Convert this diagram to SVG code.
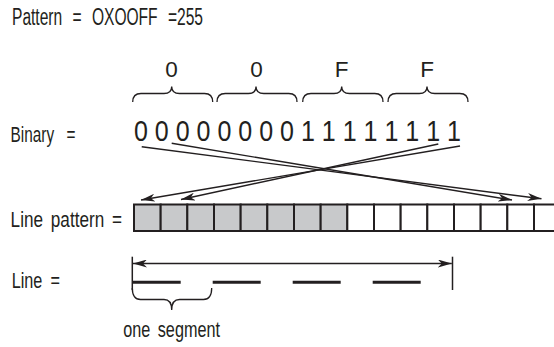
<svg xmlns="http://www.w3.org/2000/svg" width="554" height="347" viewBox="0 0 554 347">
<style>
  text { font-family: "Liberation Sans Narrow", "Liberation Sans", Arial, sans-serif; fill: #231f20; }
  .lbl { font-size: 22.5px; }
  .ttl { font-size: 23.5px; }
  .hex { font-size: 22.5px; text-anchor: middle; }
  .bits { font-size: 30px; }
  .brace { fill: none; stroke: #231f20; stroke-width: 1.3; }
  .cell { stroke: #231f20; stroke-width: 2; }
  .on { fill: #c8c9cb; }
  .off { fill: #ffffff; }
  .arrow { fill: none; stroke: #231f20; stroke-width: 1.4; marker-end: url(#ah); }
  .rule { fill: none; stroke: #231f20; stroke-width: 1.5; }
  .dash { fill: none; stroke: #231f20; stroke-width: 3; }
</style>
<defs>
  <marker id="ah" viewBox="0 0 14 8" refX="14" refY="4" markerWidth="14" markerHeight="8" markerUnits="userSpaceOnUse" orient="auto-start-reverse">
    <path d="M0,0 L14,4 L0,8 L4,4 z" fill="#231f20"/>
  </marker>
</defs>
<rect x="0" y="0" width="554" height="347" fill="#ffffff"/>

<g id="title">
  <text class="ttl" x="12" y="25" textLength="191" lengthAdjust="spacingAndGlyphs" style="word-spacing:9px">Pattern = OXOOFF =255</text>
</g>

<g id="hex-digits">
  <text class="hex" x="171.5" y="77">0</text>
  <text class="hex" x="256.5" y="77">0</text>
  <text class="hex" x="341.5" y="77">F</text>
  <text class="hex" x="427" y="77">F</text>
  <path class="brace" d="M132.7,102 Q132.7,93.5 141,93.5 L164,93.5 Q171.7,93.5 171.7,86.5 Q171.7,93.5 179.5,93.5 L204.5,93.5 Q212.7,93.5 212.7,102"/>
  <path class="brace" d="M217,102 Q217,93.5 225.3,93.5 L248.3,93.5 Q256,93.5 256,86.5 Q256,93.5 263.8,93.5 L288.8,93.5 Q297,93.5 297,102"/>
  <path class="brace" d="M302.7,102 Q302.7,93.5 311,93.5 L334,93.5 Q341.7,93.5 341.7,86.5 Q341.7,93.5 349.5,93.5 L374.8,93.5 Q383,93.5 383,102"/>
  <path class="brace" d="M388,102 Q388,93.5 396.3,93.5 L419.3,93.5 Q427,93.5 427,86.5 Q427,93.5 434.8,93.5 L459.8,93.5 Q468,93.5 468,102"/>
</g>

<g id="binary">
  <text class="lbl" x="10.6" y="141.5" textLength="65" lengthAdjust="spacingAndGlyphs" style="word-spacing:12px">Binary =</text>
  <text class="bits" x="134" y="141" textLength="327" lengthAdjust="spacingAndGlyphs">0 0 0 0 0 0 0 0 1 1 1 1 1 1 1 1</text>
</g>

<g id="line-pattern">
  <text class="lbl" x="10.6" y="226.5" textLength="111.4" lengthAdjust="spacingAndGlyphs" style="word-spacing:4px">Line pattern =</text>
  <g id="cells">
    <rect class="cell on" x="134" y="204.5" width="26.67" height="26.5"/>
    <rect class="cell on" x="160.67" y="204.5" width="26.67" height="26.5"/>
    <rect class="cell on" x="187.33" y="204.5" width="26.67" height="26.5"/>
    <rect class="cell on" x="214" y="204.5" width="26.67" height="26.5"/>
    <rect class="cell on" x="240.67" y="204.5" width="26.67" height="26.5"/>
    <rect class="cell on" x="267.33" y="204.5" width="26.67" height="26.5"/>
    <rect class="cell on" x="294" y="204.5" width="26.67" height="26.5"/>
    <rect class="cell on" x="320.67" y="204.5" width="26.67" height="26.5"/>
    <rect class="cell off" x="347.33" y="204.5" width="26.67" height="26.5"/>
    <rect class="cell off" x="374" y="204.5" width="26.67" height="26.5"/>
    <rect class="cell off" x="400.67" y="204.5" width="26.67" height="26.5"/>
    <rect class="cell off" x="427.33" y="204.5" width="26.67" height="26.5"/>
    <rect class="cell off" x="454" y="204.5" width="26.67" height="26.5"/>
    <rect class="cell off" x="480.67" y="204.5" width="26.67" height="26.5"/>
    <rect class="cell off" x="507.33" y="204.5" width="26.67" height="26.5"/>
    <rect class="cell off" x="534" y="204.5" width="26.67" height="26.5"/>
  </g>
</g>

<g id="connectors">
  <line class="arrow" x1="141.7" y1="146.7" x2="541.5" y2="198.8"/>
  <line class="arrow" x1="171.7" y1="143.3" x2="512" y2="200"/>
  <line class="arrow" x1="460" y1="146" x2="141" y2="200"/>
  <line class="arrow" x1="438.3" y1="144" x2="181" y2="199.5"/>
</g>

<g id="line">
  <text class="lbl" x="11.7" y="288.3" textLength="48.3" lengthAdjust="spacingAndGlyphs" style="word-spacing:5px">Line =</text>
  <line class="rule" x1="132.3" y1="256.7" x2="132.3" y2="290"/>
  <line class="rule" x1="452.5" y1="256.7" x2="452.5" y2="290"/>
  <line class="rule" x1="133" y1="263.5" x2="451.8" y2="263.5" marker-start="url(#ah)" marker-end="url(#ah)"/>
  <line class="dash" x1="132.3" y1="282.3" x2="180.7" y2="282.3"/>
  <line class="dash" x1="212.7" y1="282.3" x2="260.7" y2="282.3"/>
  <line class="dash" x1="292.7" y1="282.3" x2="340.7" y2="282.3"/>
  <line class="dash" x1="372.7" y1="282.3" x2="420.7" y2="282.3"/>
</g>

<g id="segment">
  <path class="brace" d="M132.3,288 Q132.3,299.5 140.5,299.5 L164,299.5 Q171.7,299.5 171.7,310 Q171.7,299.5 179.5,299.5 L203.5,299.5 Q211.7,299.5 211.7,288"/>
  <text class="lbl" x="123.3" y="336.7" textLength="96.7" lengthAdjust="spacingAndGlyphs" style="word-spacing:4px">one segment</text>
</g>
</svg>
